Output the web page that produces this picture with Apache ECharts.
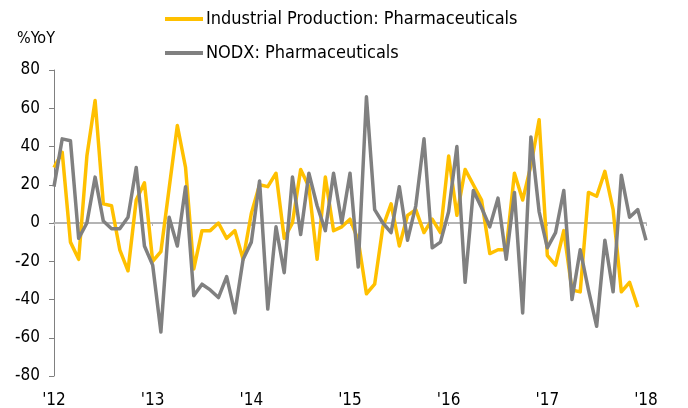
<!DOCTYPE html>
<html>
<head>
<meta charset="utf-8">
<script src="https://cdn.jsdelivr.net/npm/echarts@6/dist/echarts.min.js"></script>
<style>
  html, body { margin: 0; padding: 0; background: #fff; }
  #chart { width: 688px; height: 408px; }
</style>
</head>
<body>
<div id="chart"></div>
<script>
// 年份刻度
const yearLabels = ["'12", "'13", "'14", "'15", "'16", "'17", "'18"];
// 月份类目 (2012-01 ~ 2018-01)
const months = [];
for (let y = 2012; y <= 2018; y++) {
  for (let m = 1; m <= 12; m++) {
    if (y === 2018 && m > 1) break;
    months.push(y + "-" + (m < 10 ? "0" + m : m));
  }
}
// Industrial Production: Pharmaceuticals (%YoY)
const ipPharma = [
  29, 37, -10, -19, 35, 64, 10, 9, -14, -25, 12, 21,
  -20, -15, 18, 51, 29, -24, -4, -4, 0, -8, -4, -19,
  5, 20, 19, 26, -8, 0, 28, 19, -19, 24, -4, -2,
  2, -9, -37, -32, -2, 10, -12, 4, 7, -5, 2, -5,
  35, 4, 28, 20, 12, -16, -14, -14, 26, 12, 30, 54,
  -17, -22, -4, -35, -36, 16, 14, 27, 7, -36, -31, -44
];
// NODX: Pharmaceuticals (%YoY)
const nodxPharma = [
  19, 44, 43, -8, 0, 24, 1, -3, -3, 3, 29, -12,
  -22, -57, 3, -12, 19, -38, -32, -35, -39, -28, -47, -19,
  -10, 22, -45, -2, -26, 24, -6, 26, 9, -4, 26, 0,
  26, -23, 66, 7, 0, -5, 19, -9, 9, 44, -13, -10,
  6, 40, -31, 17, 8, -2, 13, -19, 16, -47, 45, 6,
  -13, -5, 17, -40, -14, -35, -54, -9, -36, 25, 3, 7, -9
];

const labelFont = "'DejaVu Sans Condensed', sans-serif";

const myChart = echarts.init(document.querySelector("#chart"));
const option = {
  animation: false,
  title: {
    text: "%YoY",
    left: 17,
    top: 31,
    padding: 0,
    textStyle: { fontFamily: labelFont, fontSize: 16, fontWeight: "normal", color: "#000" },
  },
  legend: {
    orient: "vertical",
    left: 160,
    top: 5,
    itemGap: 16,
    itemWidth: 38,
    itemHeight: 4,
    icon: "rect",
    textStyle: { fontFamily: "'DejaVu Sans Condensed', sans-serif", fontSize: 18, color: "#000", padding: [0, 0, 0, -2] },
    data: ["Industrial Production: Pharmaceuticals", "NODX: Pharmaceuticals"],
  },
  grid: {
    left: 54,
    right: 42,
    top: 70,
    bottom: 32,
    outerBoundsMode: "none",
  },
  xAxis: [
    {
      type: "category",
      data: months,
      boundaryGap: false,
      position: "bottom",
      axisLine: { show: false, onZero: false },
      axisTick: { show: false },
      axisLabel: {
        interval: 11,
        margin: 16,
        fontFamily: labelFont,
        fontSize: 17,
        color: "#000",
        formatter: (val, idx) => yearLabels[Math.floor(idx / 12)],
      },
    },
    {
      type: "category",
      data: months,
      boundaryGap: false,
      position: "bottom",
      axisLine: { show: true, onZero: true, lineStyle: { color: "#b4b4b4", width: 2 } },
      axisTick: { show: true, interval: 11, length: 3, lineStyle: { color: "#b4b4b4" } },
      axisLabel: { show: false },
    },
  ],
  yAxis: {
    type: "value",
    min: -80,
    max: 80,
    interval: 20,
    axisLine: { show: true, lineStyle: { color: "#808080", width: 1 } },
    axisTick: { show: true, length: 5, lineStyle: { color: "#808080" } },
    splitLine: { show: false },
    axisLabel: { margin: 14, fontFamily: labelFont, fontSize: 17, color: "#000" },
  },
  series: [
    {
      name: "Industrial Production: Pharmaceuticals",
      type: "line",
      data: ipPharma,
      symbol: "none",
      color: "#FFC000",
      lineStyle: { width: 3.5, color: "#FFC000", join: "round" },
    },
    {
      name: "NODX: Pharmaceuticals",
      type: "line",
      data: nodxPharma,
      symbol: "none",
      color: "#808080",
      lineStyle: { width: 3.5, color: "#808080", join: "round" },
    },
  ],
};
myChart.setOption(option);
</script>
</body>
</html>
